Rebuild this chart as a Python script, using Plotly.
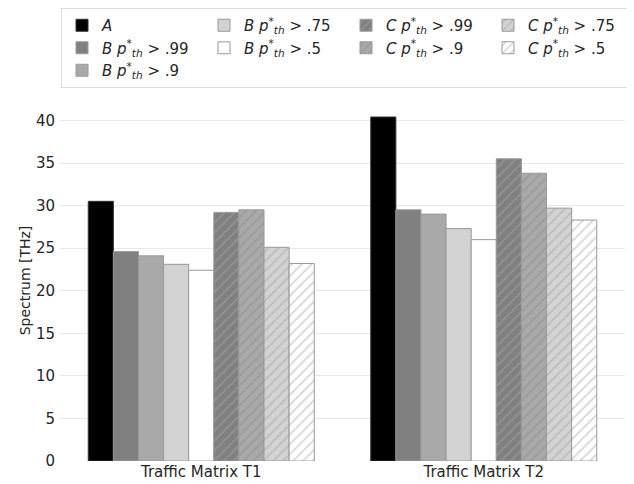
import plotly.graph_objects as go

categories = ["Traffic Matrix T1", "Traffic Matrix T2"]
series_names = ["A", "B .99", "B .9", "B .75", "B .5", "C .99", "C .9", "C .75", "C .5"]
values_A = [30.5, 40.4]
values_B99 = [24.6, 29.5]
values_B9 = [24.1, 29.0]
values_B75 = [23.1, 27.3]
values_B5 = [22.4, 26.0]
values_C99 = [29.2, 35.5]
values_C9 = [29.5, 33.8]
values_C75 = [25.1, 29.7]
values_C5 = [23.2, 28.3]

series_values = [values_A, values_B99, values_B9, values_B75, values_B5,
                 values_C99, values_C9, values_C75, values_C5]

def label(name):
    if name == "A":
        return "<i>A</i>"
    letter, thr = name.split(" ")
    return f"<i>{letter} p</i><sup>*</sup><sub><i>th</i></sub> > {thr}"

fills = ["#000000", "#808080", "#a9a9a9", "#d3d3d3", "#ffffff",
         "#808080", "#a9a9a9", "#d3d3d3", "#ffffff"]
hatch_colors = [None, None, None, None, None, "#ababab", "#8a8a8a", "#a0a0a0", "#a0a0a0"]
edge = "#9a9a9a"
# legend ranks so that a row-wise legend reads column-wise like the reference
ranks = [1, 5, 9, 2, 6, 3, 7, 4, 8]

fig = go.Figure()
for name, vals, fc, hc, rk in zip(series_names, series_values, fills, hatch_colors, ranks):
    marker = dict(color=fc, line=dict(color=edge if fc != "#000000" else "#333333", width=1))
    if hc:
        marker["pattern"] = dict(shape="/", fgcolor=hc, bgcolor=fc, size=7, solidity=0.22,
                                 fillmode="overlay")
    fig.add_trace(go.Bar(x=categories, y=vals, name=label(name), marker=marker,
                         legendrank=rk))

W, H = 626, 476  # page body has an 8px margin
fig.update_layout(
    width=W, height=H,
    margin=dict(l=52, r=9, t=92, b=23),
    barmode="group", bargap=0.2, bargroupgap=0,
    paper_bgcolor="white", plot_bgcolor="white",
    font=dict(family="DejaVu Sans", size=15, color="#262626"),
    legend=dict(orientation="h", xref="container", yref="container",
                x=53 / W, y=1.0, xanchor="left", yanchor="top",
                entrywidth=97, entrywidthmode="pixels",
                bordercolor="#dcdcdc", borderwidth=1, font=dict(size=15),
                traceorder="normal"),
    xaxis=dict(showgrid=False, showline=False, zeroline=False, ticks="",
               tickfont=dict(size=15), automargin=False),
    yaxis=dict(range=[0, 42.4], showgrid=True, gridcolor="#e8e8e8", gridwidth=1,
               zeroline=False, showline=False, dtick=5, tick0=0,
               ticklabelstandoff=4, tickfont=dict(size=15), automargin=False,
               title=dict(text="Spectrum [THz]", font=dict(size=14), standoff=2)),
)

fig.write_html("out.html")
